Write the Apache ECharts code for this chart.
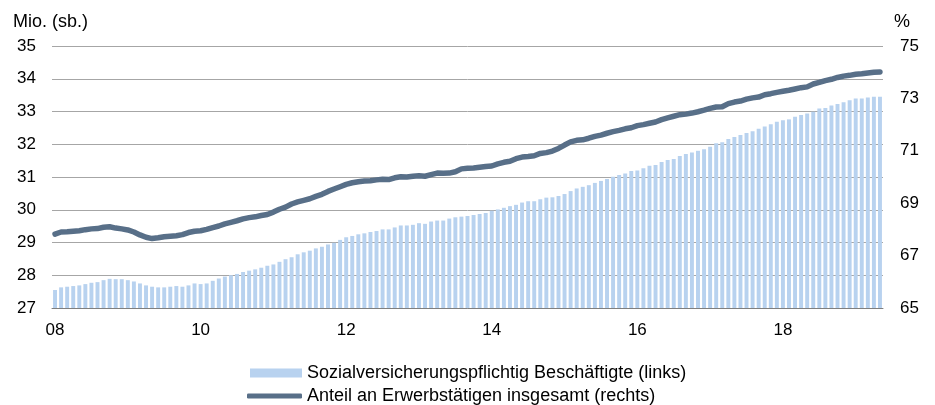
<!DOCTYPE html>
<html>
<head>
<meta charset="utf-8">
<script src="https://cdn.jsdelivr.net/npm/echarts@6/dist/echarts.min.js"></script>
<style>
  html, body { margin: 0; padding: 0; background: #fff; }
  #chart { width: 935px; height: 405px; }
</style>
</head>
<body>
<div id="chart"></div>
<script>
// monthly, Jan 2008 .. May 2019
let startYear = 2008;
let monthCount = 137;
let months = [];
for (let i = 0; i < monthCount; i++) {
    let y = startYear + Math.floor(i / 12);
    let m = (i % 12) + 1;
    months.push(y + '-' + (m < 10 ? '0' + m : m));
}

// Sozialversicherungspflichtig Beschaeftigte, Mio. (links)
let employees = [
    27.55, 27.63, 27.65, 27.67, 27.69, 27.73, 27.77, 27.79, 27.85, 27.89,
    27.88, 27.88, 27.85, 27.81, 27.75, 27.69, 27.65, 27.63, 27.63, 27.65,
    27.67, 27.65, 27.69, 27.75, 27.73, 27.75, 27.83, 27.90, 27.96, 28.00,
    28.04, 28.10, 28.14, 28.18, 28.23, 28.29, 28.33, 28.41, 28.49, 28.55,
    28.64, 28.70, 28.75, 28.82, 28.87, 28.94, 28.99, 29.08, 29.16, 29.20,
    29.25, 29.28, 29.32, 29.35, 29.40, 29.40, 29.46, 29.52, 29.52, 29.54,
    29.59, 29.57, 29.64, 29.67, 29.67, 29.73, 29.77, 29.79, 29.81, 29.84,
    29.87, 29.90, 29.97, 30.01, 30.06, 30.11, 30.15, 30.22, 30.26, 30.26,
    30.32, 30.37, 30.38, 30.42, 30.48, 30.57, 30.65, 30.70, 30.75, 30.82,
    30.88, 30.94, 31.01, 31.06, 31.11, 31.18, 31.20, 31.27, 31.34, 31.37,
    31.46, 31.52, 31.55, 31.64, 31.70, 31.75, 31.80, 31.85, 31.92, 32.03,
    32.06, 32.16, 32.22, 32.28, 32.34, 32.40, 32.47, 32.54, 32.61, 32.69,
    32.73, 32.76, 32.84, 32.89, 32.94, 32.99, 33.09, 33.11, 33.18, 33.23,
    33.28, 33.34, 33.40, 33.40, 33.43, 33.45, 33.45
];

// Anteil an Erwerbstaetigen insgesamt, % (rechts)
let share = [
    67.82, 67.90, 67.91, 67.93, 67.95, 67.99, 68.02, 68.03, 68.08, 68.10,
    68.05, 68.02, 67.98, 67.90, 67.79, 67.70, 67.65, 67.68, 67.72, 67.74,
    67.76, 67.80, 67.88, 67.93, 67.95, 68.00, 68.07, 68.13, 68.21, 68.27,
    68.33, 68.40, 68.45, 68.48, 68.53, 68.57, 68.66, 68.77, 68.85, 68.97,
    69.05, 69.11, 69.17, 69.26, 69.34, 69.45, 69.54, 69.63, 69.72, 69.78,
    69.82, 69.85, 69.86, 69.89, 69.91, 69.90, 69.97, 70.01, 70.00, 70.03,
    70.05, 70.03, 70.09, 70.15, 70.14, 70.15, 70.20, 70.31, 70.33, 70.34,
    70.37, 70.40, 70.42, 70.50, 70.56, 70.60, 70.70, 70.76, 70.78, 70.81,
    70.90, 70.93, 70.99, 71.09, 71.22, 71.34, 71.40, 71.42, 71.48, 71.55,
    71.60, 71.67, 71.73, 71.78, 71.84, 71.88, 71.96, 72.00, 72.05, 72.10,
    72.19, 72.26, 72.32, 72.38, 72.40, 72.44, 72.49, 72.55, 72.62, 72.67,
    72.68, 72.80, 72.86, 72.90, 72.97, 73.02, 73.05, 73.14, 73.18, 73.23,
    73.27, 73.31, 73.36, 73.41, 73.44, 73.55, 73.61, 73.68, 73.73, 73.80,
    73.85, 73.88, 73.92, 73.94, 73.97, 74.00, 74.01
];

let barName = 'Sozialversicherungspflichtig Beschäftigte (links)';
let lineName = 'Anteil an Erwerbstätigen insgesamt (rechts)';
let font = 'Liberation Sans, Arial, sans-serif';
let barColor = '#b8d2ef';
let lineColor = '#586f88';

let myChart = echarts.init(document.getElementById('chart'));
let option = {
    animation: false,
    textStyle: { fontFamily: font },
    grid: { left: 52, right: 52, top: 46, bottom: 97 },
    graphic: [
        { type: 'text', left: 13, top: 13, style: { text: 'Mio. (sb.)', fontSize: 18, fontFamily: font, fill: '#000' } },
        { type: 'text', left: 894, top: 13, style: { text: '%', fontSize: 18, fontFamily: font, fill: '#000' } }
    ],
    legend: [
        {
            left: 250,
            top: 364,
            padding: 0,
            itemWidth: 52,
            itemHeight: 9,
            textStyle: { fontSize: 18, fontFamily: font, color: '#000' },
            data: [{ name: barName, icon: 'rect' }]
        },
        {
            left: 247,
            top: 387,
            padding: 0,
            itemWidth: 55,
            itemHeight: 5,
            textStyle: { fontSize: 18, fontFamily: font, color: '#000' },
            data: [{ name: lineName, icon: 'roundRect', itemStyle: { color: lineColor } }]
        }
    ],
    xAxis: {
        type: 'category',
        data: months,
        boundaryGap: true,
        axisLine: { lineStyle: { color: '#7f7f7f', width: 1 } },
        axisTick: { show: false },
        axisLabel: {
            interval: function (idx) { return idx % 24 === 0; },
            formatter: function (v) { return v.slice(2, 4); },
            fontSize: 17,
            color: '#000',
            margin: 14
        }
    },
    yAxis: [
        {
            type: 'value',
            min: 27, max: 35, interval: 1,
            axisLine: { show: false },
            axisTick: { show: false },
            axisLabel: { fontSize: 17, color: '#000', margin: 16 },
            splitLine: { lineStyle: { color: '#a6a6a6', width: 1 } }
        },
        {
            type: 'value',
            min: 65, max: 75, interval: 2,
            position: 'right',
            axisLine: { show: false },
            axisTick: { show: false },
            axisLabel: { fontSize: 17, color: '#000', margin: 17 },
            splitLine: { show: false }
        }
    ],
    series: [
        {
            name: barName,
            type: 'bar',
            data: employees,
            yAxisIndex: 0,
            barWidth: '65%',
            itemStyle: { color: barColor }
        },
        {
            name: lineName,
            type: 'line',
            data: share,
            yAxisIndex: 1,
            symbol: 'none',
            lineStyle: { color: lineColor, width: 5.5, cap: 'round', join: 'round' },
            itemStyle: { color: lineColor }
        }
    ]
};
myChart.setOption(option);
</script>
</body>
</html>
